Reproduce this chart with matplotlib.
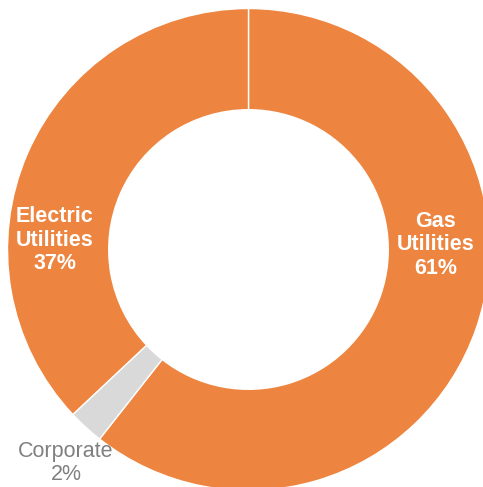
#!/usr/bin/env python3
"""Donut chart: share by segment (Gas / Corporate / Electric)."""
import matplotlib

matplotlib.use("Agg")
import matplotlib.pyplot as plt  # noqa: E402

plt.rcParams["font.family"] = ["Liberation Sans", "DejaVu Sans"]

segments = ["Gas\nUtilities", "Corporate", "Electric\nUtilities"]
shares = [60.6, 2.4, 37.0]
shown_pct = ["61%", "2%", "37%"]
colors = ["#ED8540", "#D9D9D9", "#ED8540"]

# label placement (data units, ring radius = 1)
label_xy = [(0.778, 0.019), (-0.757, -0.886), (-0.803, 0.039)]
label_style = [
    dict(color="white", fontweight="bold"),
    dict(color="#808080", fontweight="normal"),
    dict(color="white", fontweight="bold"),
]

W, H = 483, 487
CX, CY, R = 248.5, 237.5, 241  # center from left / bottom, radius in px


def main():
    fig = plt.figure(figsize=(W / 100, H / 100), dpi=100)
    ax = fig.add_axes([0, 0, 1, 1])
    ax.pie(
        shares,
        colors=colors,
        startangle=90,
        counterclock=False,
        radius=1.0,
        wedgeprops=dict(width=0.42, edgecolor="white", linewidth=1.0),
    )
    ax.set_aspect("auto")
    ax.set_xlim(-CX / R, (W - CX) / R)
    ax.set_ylim(-CY / R, (H - CY) / R)
    ax.axis("off")

    for name, pct, (x, y), st in zip(segments, shown_pct, label_xy, label_style):
        ax.text(x, y, f"{name}\n{pct}", ha="center", va="center",
                fontsize=15.5, linespacing=1.15, **st)

    fig.savefig("out.png", dpi=100)
    plt.close(fig)


if __name__ == "__main__":
    main()
